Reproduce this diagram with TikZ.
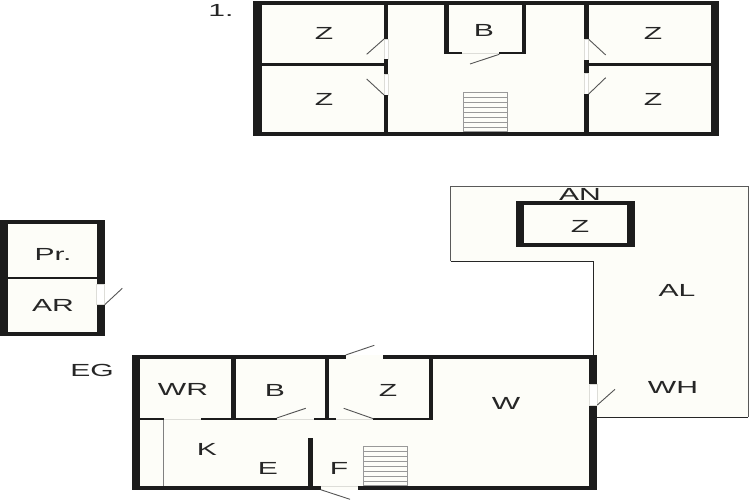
\documentclass[tikz,border=0pt]{standalone}
\usepackage{fontspec}
\setmainfont{Liberation Sans}
\definecolor{wallc}{HTML}{1C1C1C}
\definecolor{roomc}{HTML}{FDFDF8}
\definecolor{leafc}{HTML}{555555}
\definecolor{gapc}{HTML}{DDDDD8}
\tikzset{
  wall/.style={fill=wallc,draw=none},
  room/.style={fill=roomc,draw=none},
  doorgap/.style={fill=white,draw=gapc,line width=.5pt},
  leaf/.style={draw=leafc,line width=.9pt},
  thin gap/.style={draw=gapc,line width=.7pt},
  tread/.style={draw=gray!80,line width=.7pt},
  outline/.style={draw=black!85,line width=1.3pt},
  lbl/.style={transform shape,xscale=1.72,yshift=-.8pt,inner sep=0pt,text=black!85,font=\fontsize{17.5}{17.5}\selectfont}
}
\begin{document}
\begin{tikzpicture}[x=1pt,y=-1pt]
\useasboundingbox (0,0) rectangle (750,500);
\fill[white] (0,0) rectangle (750,500);
% ---- upper floor
\fill[room] (253.3,1) rectangle (718.7,135.7);
\fill[wall] (253.3,1) rectangle (718.7,4.7);
\fill[wall] (253.3,131.7) rectangle (718.7,135.7);
\fill[wall] (253.3,1) rectangle (261.7,135.7);
\fill[wall] (710.7,1) rectangle (718.7,135.7);
\fill[doorgap] (384,39) rectangle (388.3,59);
\fill[doorgap] (384,74) rectangle (388.3,95);
\fill[wall] (384,1) rectangle (388.3,39);
\fill[wall] (384,59) rectangle (388.3,74);
\fill[wall] (384,95) rectangle (388.3,132);
\fill[wall] (261,63.5) rectangle (384,66);
\draw[leaf] (384,39) -- (366.7,54.3);
\draw[leaf] (384,95) -- (366.7,79);
\fill[wall] (444.3,1) rectangle (448.7,54.3);
\fill[wall] (444.3,51.7) rectangle (462,54.3);
\fill[wall] (499.3,51.7) rectangle (526,54.3);
\fill[wall] (522,1) rectangle (526,54.3);
\draw[thin gap] (462,53) -- (499.3,53);
\draw[leaf] (499.3,54.3) -- (470,64);
\fill[doorgap] (584,39) rectangle (588.7,60);
\fill[doorgap] (584,73) rectangle (588.7,94);
\fill[wall] (584,1) rectangle (588.7,39);
\fill[wall] (584,60) rectangle (588.7,72.7);
\fill[wall] (584,94) rectangle (588.7,132);
\fill[wall] (588,63.5) rectangle (711,66);
\draw[leaf] (588.7,39.3) -- (605.7,55);
\draw[leaf] (588.7,94) -- (605.7,77.7);
\draw[tread] (463.3,92) rectangle (507.7,131.7);
\foreach \yy in {97,102,107.3,112.3,117.3,122.3,127.3} \draw[tread] (463.3,\yy) -- (507.7,\yy);
% ---- annex outline
\fill[room] (450.7,186.7) -- (748.3,186.7) -- (748.3,417.3) -- (593.7,417.3) -- (593.7,261.3) -- (450.7,261.3) -- cycle;
\draw[outline,draw=black!65,line width=1.2pt] (450.7,261.3) -- (450.7,186.7) -- (748.3,186.7) -- (748.3,417.3);
\draw[outline] (450.7,261.3) -- (593.7,261.3) -- (593.7,356);
\draw[outline] (597,417.3) -- (748.3,417.3);
\fill[wall] (516,200.7) rectangle (634.7,247);
\fill[room] (524,204.7) rectangle (627,243);
% ---- shed
\fill[room] (0,220) rectangle (104.7,336);
\fill[wall] (0,220) rectangle (104.7,224);
\fill[wall] (0,331.7) rectangle (104.7,336);
\fill[wall] (0,220) rectangle (8,336);
\fill[wall] (96.7,220) rectangle (104.7,284);
\fill[wall] (96.7,304.7) rectangle (104.7,336);
\fill[doorgap] (96.7,284) rectangle (104.7,304.7);
\fill[wall] (8,276.7) rectangle (97,279.3);
\draw[leaf] (104.7,304.7) -- (122.3,288.3);
% ---- ground floor
\fill[room] (132.3,355) rectangle (597.3,489.7);
\fill[wall] (132.3,355) rectangle (345.7,359);
\fill[wall] (382.7,355) rectangle (597.3,359);
\fill[roomc] (345.7,355) rectangle (382.7,359);
\draw[leaf] (345.7,355) -- (374.3,345.3);
\fill[wall] (132.3,485.7) rectangle (320.7,489.7);
\fill[wall] (358.3,485.7) rectangle (597.3,489.7);
\draw[thin gap] (320.7,486) -- (358.3,486);
\draw[leaf] (320.7,489.7) -- (350,499.3);
\fill[wall] (132.3,355) rectangle (140.3,489.7);
\fill[wall] (589.3,355) rectangle (597.3,384);
\fill[wall] (589.3,405) rectangle (597.3,489.7);
\fill[doorgap] (589.3,384) rectangle (597.3,405);
\draw[leaf] (597.3,405) -- (615,389.3);
\fill[wall] (231,359) rectangle (235.7,420.3);
\fill[wall] (140,417.7) rectangle (164,420.3);
\draw[thin gap] (164,419.5) -- (201,419.5);
\fill[wall] (201,417.7) rectangle (276.7,420.3);
\draw[thin gap] (276.7,419.5) -- (314,419.5);
\draw[leaf] (276.7,418) -- (305.7,408.3);
\fill[wall] (325.3,359) rectangle (329.3,420.3);
\fill[wall] (314,417.7) rectangle (336,420.3);
\draw[thin gap] (336,419.5) -- (373.3,419.5);
\fill[wall] (428.7,359) rectangle (432.7,420.3);
\fill[wall] (373.3,417.7) rectangle (432.7,420.3);
\draw[leaf] (373.3,418.7) -- (343.7,408.3);
\draw[leaf,draw=gray] (163.7,420) -- (163.7,486);
\fill[wall] (308.3,437.7) rectangle (313,486);
\draw[tread] (363.7,446.3) rectangle (407.7,485.7);
\foreach \yy in {451.3,456.3,461.5,466.5,471.5,476.5,481.5} \draw[tread] (363.7,\yy) -- (407.7,\yy);
% ---- labels
\node[lbl] (floor1) at (221,10) {1.};
\node[lbl] (z1) at (324,33) {Z};
\node[lbl] (z2) at (324,99) {Z};
\node[lbl] (b1) at (484,29.5) {B};
\node[lbl] (z3) at (653,33) {Z};
\node[lbl] (z4) at (653,99) {Z};
\node[lbl] (pr) at (53,254) {Pr.};
\node[lbl] (ar) at (53,305) {AR};
\node[lbl] (an) at (580,194) {AN};
\node[lbl] (z5) at (580,226) {Z};
\node[lbl] (al) at (677,290) {AL};
\node[lbl] (wh) at (673,387) {WH};
\node[lbl] (eg) at (92,370) {EG};
\node[lbl] (wr) at (183,389) {WR};
\node[lbl] (b2) at (275,390) {B};
\node[lbl] (z6) at (388,390) {Z};
\node[lbl] (w) at (506,403) {W};
\node[lbl] (k) at (207,449) {K};
\node[lbl] (e) at (268,468) {E};
\node[lbl] (f) at (339,468) {F};
\end{tikzpicture}
\end{document}
